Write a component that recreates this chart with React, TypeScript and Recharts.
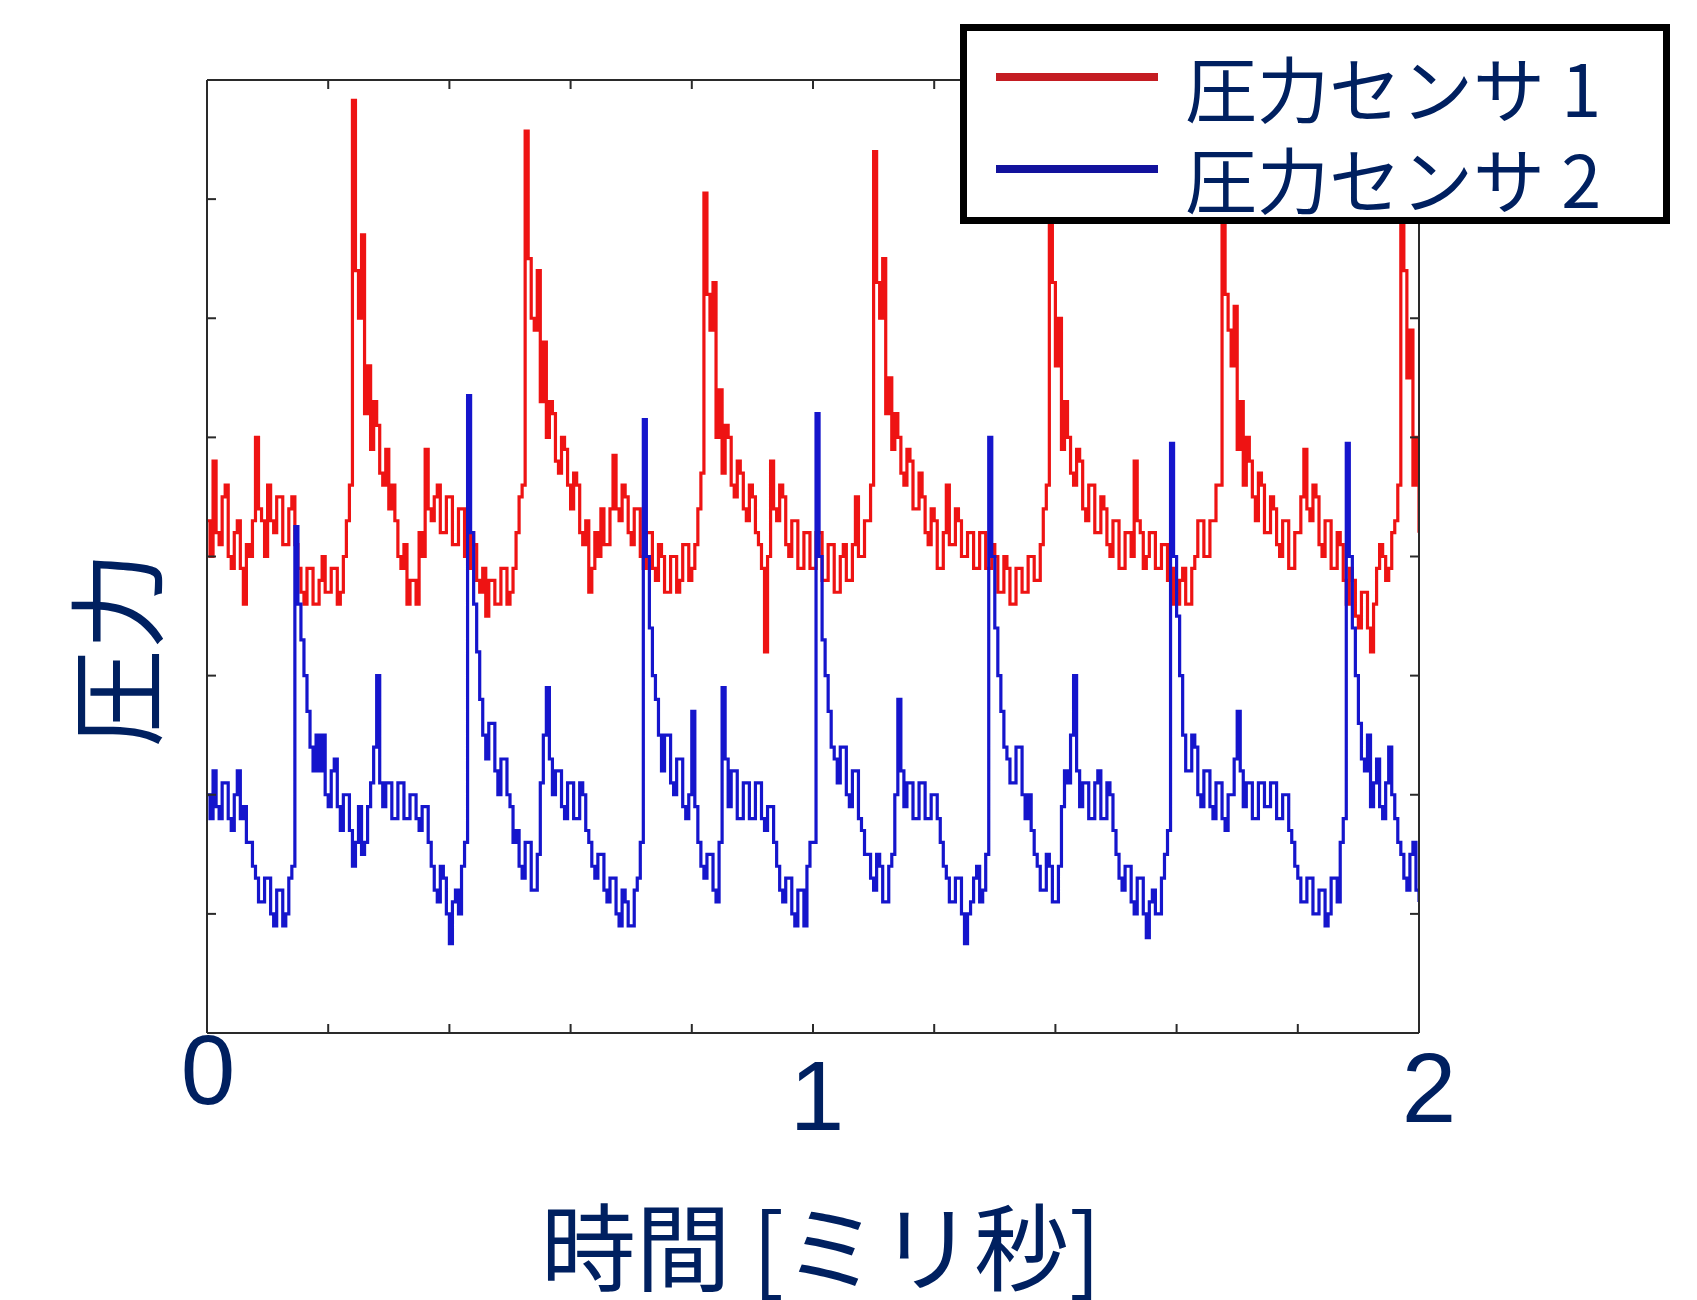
import React from 'react';
import { LineChart, Line, XAxis, YAxis, Label } from 'recharts';

const NAVY = '#002060';
const CJK_FONT = '"Noto Sans CJK JP", "Noto Sans", sans-serif';
const DIGIT_FONT = '"Liberation Sans", Arial, sans-serif';
const FRAME = '#2a2a2a';

// one sample every 0.005 ms, 0 .. 2 ms
const SAMPLE_STEP_MS = 0.005;
const timeTicks = [0, 0.2, 0.4, 0.6, 0.8, 1, 1.2, 1.4, 1.6, 1.8, 2];
const pressureTicks = [0, 1, 2, 3, 4, 5, 6, 7, 8];

// 圧力センサ 1 (red), 20 samples per 0.1 ms row
const sensor1 = [
  4.3, 4.0, 4.8, 4.2, 4.1, 4.5, 4.6, 4.0, 3.9, 4.2, 4.3, 3.9, 3.6, 4.1, 4.0, 4.3, 5.0, 4.4, 4.3, 4.0, // 0.0
  4.6, 4.3, 4.2, 4.5, 4.5, 4.1, 4.1, 4.4, 4.5, 4.1, 3.9, 3.7, 3.6, 3.9, 3.9, 3.6, 3.6, 3.8, 4.0, 3.7, // 0.1
  3.7, 3.9, 3.9, 3.6, 3.7, 4.0, 4.3, 4.6, 7.83, 6.4, 6.0, 6.7, 5.2, 5.6, 4.9, 5.3, 5.1, 4.7, 4.6, 4.9, // 0.2
  4.4, 4.6, 4.3, 4.0, 3.9, 4.1, 3.6, 3.8, 3.8, 3.6, 4.2, 4.0, 4.9, 4.4, 4.3, 4.5, 4.6, 4.2, 4.2, 4.5, // 0.3
  4.5, 4.1, 4.1, 4.4, 4.4, 4.0, 3.9, 4.2, 4.1, 3.8, 3.7, 3.9, 3.5, 3.8, 3.8, 3.6, 3.6, 3.9, 3.9, 3.6, // 0.4
  3.7, 3.9, 4.2, 4.5, 4.6, 7.57, 6.5, 6.0, 5.9, 6.4, 5.3, 5.8, 5.0, 5.3, 5.2, 4.8, 4.7, 5.0, 4.9, 4.6, // 0.5
  4.4, 4.7, 4.6, 4.2, 4.1, 4.3, 3.7, 3.9, 4.2, 4.0, 4.4, 4.1, 4.1, 4.4, 4.85, 4.4, 4.3, 4.6, 4.5, 4.2, // 0.6
  4.1, 4.4, 4.4, 4.0, 3.9, 4.2, 4.2, 3.9, 3.8, 4.1, 4.0, 3.7, 3.7, 4.0, 4.0, 3.7, 3.8, 4.1, 4.1, 3.8, // 0.7
  3.9, 4.1, 4.4, 4.7, 7.05, 6.2, 5.9, 6.3, 5.0, 5.4, 4.7, 5.1, 5.0, 4.6, 4.5, 4.8, 4.7, 4.4, 4.3, 4.6, // 0.8
  4.5, 4.2, 4.1, 3.9, 3.2, 4.0, 4.8, 4.4, 4.3, 4.6, 4.5, 4.1, 4.0, 4.3, 4.3, 3.9, 3.9, 4.2, 4.2, 3.9, // 0.9
  3.9, 4.2, 4.2, 3.8, 3.8, 4.1, 4.1, 3.7, 3.7, 4.0, 4.1, 3.8, 3.8, 4.1, 4.5, 4.0, 4.0, 4.3, 4.3, 4.6, // 1.0
  7.4, 6.3, 6.0, 6.5, 5.2, 5.5, 4.9, 5.2, 5.0, 4.7, 4.6, 4.9, 4.8, 4.4, 4.4, 4.7, 4.5, 4.2, 4.1, 4.4, // 1.1
  4.3, 3.9, 3.9, 4.2, 4.6, 4.1, 4.1, 4.4, 4.3, 4.0, 4.0, 4.2, 4.2, 3.9, 3.9, 4.2, 4.2, 3.9, 3.9, 4.1, // 1.2
  4.0, 3.7, 3.7, 4.0, 3.9, 3.6, 3.6, 3.9, 3.9, 3.7, 3.7, 4.0, 4.0, 3.8, 3.8, 4.1, 4.4, 4.6, 7.2, 6.3, // 1.3
  5.6, 6.0, 4.9, 5.3, 5.0, 4.7, 4.6, 4.9, 4.8, 4.4, 4.3, 4.6, 4.6, 4.2, 4.2, 4.5, 4.4, 4.1, 4.0, 4.3, // 1.4
  4.3, 3.9, 3.9, 4.2, 4.2, 4.0, 4.8, 4.3, 4.2, 3.9, 4.0, 4.2, 4.2, 3.9, 3.9, 4.1, 4.1, 3.8, 3.9, 3.6, // 1.5
  3.6, 3.8, 3.9, 3.6, 3.6, 3.9, 4.0, 4.3, 4.3, 4.0, 4.0, 4.3, 4.3, 4.6, 4.6, 7.3, 6.2, 5.9, 5.6, 6.1, // 1.6
  4.9, 5.3, 4.6, 5.0, 4.8, 4.5, 4.3, 4.7, 4.6, 4.2, 4.2, 4.5, 4.4, 4.1, 4.0, 4.3, 4.3, 3.9, 3.9, 4.2, // 1.7
  4.2, 4.5, 4.9, 4.4, 4.3, 4.6, 4.5, 4.1, 4.0, 4.3, 4.3, 3.9, 3.9, 4.2, 4.1, 3.8, 3.6, 3.9, 3.8, 3.5, // 1.8
  3.4, 3.7, 3.7, 3.4, 3.2, 3.6, 3.9, 4.1, 4.0, 3.8, 3.9, 4.2, 4.3, 4.6, 7.2, 6.4, 5.5, 5.9, 4.6, 5.0, // 1.9
  4.2,
];

// 圧力センサ 2 (blue)
const sensor2 = [
  2.0, 1.8, 2.2, 1.9, 1.8, 2.1, 2.1, 1.8, 1.7, 2.0, 2.2, 1.8, 1.9, 1.6, 1.6, 1.4, 1.3, 1.1, 1.1, 1.3, // 0.0
  1.3, 1.0, 0.9, 1.2, 1.2, 0.9, 1.0, 1.3, 1.4, 4.25, 3.6, 3.3, 3.0, 2.7, 2.4, 2.2, 2.5, 2.2, 2.5, 2.0, // 0.1
  1.9, 2.2, 2.3, 1.9, 1.7, 2.0, 2.0, 1.7, 1.4, 1.6, 1.9, 1.5, 1.6, 1.9, 2.1, 2.4, 3.0, 2.1, 1.9, 2.1, // 0.2
  2.1, 1.8, 1.8, 2.1, 2.1, 1.8, 1.8, 2.0, 2.0, 1.8, 1.7, 1.9, 1.9, 1.6, 1.4, 1.2, 1.1, 1.4, 1.3, 1.0, // 0.3
  0.75, 1.1, 1.2, 1.0, 1.4, 1.6, 5.35, 4.2, 3.6, 3.2, 2.8, 2.5, 2.3, 2.6, 2.6, 2.2, 2.0, 2.3, 2.3, 2.0, // 0.4
  1.9, 1.6, 1.7, 1.4, 1.3, 1.6, 1.6, 1.2, 1.2, 1.5, 2.1, 2.5, 2.9, 2.3, 2.0, 2.2, 2.2, 1.9, 1.8, 2.1, // 0.5
  2.1, 1.8, 1.8, 2.1, 2.0, 1.7, 1.6, 1.4, 1.3, 1.5, 1.5, 1.2, 1.1, 1.3, 1.3, 1.0, 0.9, 1.2, 1.1, 0.9, // 0.6
  0.9, 1.2, 1.3, 1.6, 5.15, 4.0, 3.4, 3.0, 2.8, 2.5, 2.2, 2.5, 2.5, 2.1, 2.0, 2.3, 2.3, 1.9, 1.8, 2.0, // 0.7
  2.7, 1.9, 1.6, 1.4, 1.3, 1.5, 1.5, 1.2, 1.1, 1.6, 2.9, 2.3, 1.9, 2.2, 2.2, 1.8, 1.8, 2.1, 2.1, 1.8, // 0.8
  1.8, 2.1, 2.1, 1.8, 1.7, 1.9, 1.9, 1.6, 1.4, 1.2, 1.1, 1.3, 1.3, 1.0, 0.9, 1.2, 1.2, 0.9, 1.4, 1.6, // 0.9
  1.6, 5.2, 4.0, 3.3, 3.0, 2.7, 2.4, 2.3, 2.1, 2.4, 2.4, 2.0, 1.9, 2.2, 2.2, 1.8, 1.7, 1.5, 1.5, 1.3, // 1.0
  1.2, 1.5, 1.4, 1.1, 1.1, 1.4, 1.5, 2.0, 2.8, 2.2, 1.9, 2.1, 2.1, 1.8, 1.8, 2.1, 2.1, 1.8, 1.8, 2.0, // 1.1
  2.0, 1.8, 1.6, 1.4, 1.3, 1.1, 1.1, 1.3, 1.3, 1.0, 0.75, 1.0, 1.1, 1.3, 1.4, 1.1, 1.2, 1.5, 5.0, 4.0, // 1.2
  3.4, 3.0, 2.7, 2.4, 2.3, 2.1, 2.1, 2.4, 2.4, 2.0, 1.8, 2.0, 1.7, 1.5, 1.4, 1.2, 1.2, 1.5, 1.4, 1.1, // 1.3
  1.1, 1.4, 1.9, 2.2, 2.1, 2.5, 3.0, 2.2, 1.9, 2.1, 2.1, 1.8, 1.8, 2.1, 2.2, 1.8, 1.8, 2.1, 2.0, 1.7, // 1.4
  1.5, 1.3, 1.2, 1.4, 1.4, 1.1, 1.0, 1.3, 1.3, 1.0, 0.8, 1.1, 1.2, 1.0, 1.0, 1.3, 1.5, 1.7, 4.95, 4.0, // 1.5
  3.5, 3.0, 2.5, 2.2, 2.2, 2.5, 2.4, 2.0, 1.9, 2.2, 2.2, 1.9, 1.8, 2.1, 2.1, 1.8, 1.7, 2.0, 2.0, 2.3, // 1.6
  2.7, 2.2, 1.9, 2.1, 2.1, 1.8, 1.8, 2.1, 2.1, 1.9, 1.9, 2.1, 2.1, 1.8, 1.8, 2.0, 2.0, 1.7, 1.6, 1.4, // 1.7
  1.3, 1.1, 1.1, 1.3, 1.3, 1.0, 1.0, 1.2, 1.2, 0.9, 1.0, 1.3, 1.3, 1.1, 1.6, 1.8, 4.95, 4.0, 3.4, 3.0, // 1.8
  2.6, 2.3, 2.2, 2.5, 1.9, 2.1, 2.3, 1.9, 1.8, 2.1, 2.4, 2.0, 1.8, 1.6, 1.5, 1.3, 1.2, 1.5, 1.6, 1.2, // 1.9
  1.1,
];

const seriesNames = ['圧力センサ 1', '圧力センサ 2'];
const seriesColors = ['#ee1313', '#1515cc'];
const legendColors = ['#c41d22', '#12129c'];

const data = sensor1.map((v, i) => ({ t: i * SAMPLE_STEP_MS, s1: v, s2: sensor2[i] }));

// the three big time labels sit at slightly different heights in the original
const labelNudge: Record<number, { dx: number; dy: number }> = {
  0: { dx: 1, dy: 71 },
  1: { dx: 4, dy: 97 },
  2: { dx: 10, dy: 89 },
};

const TimeTick = (props: any) => {
  const { x, y, payload } = props;
  const n = labelNudge[payload.value];
  if (!n) return <g />;
  return (
    <text x={x + n.dx} y={y + n.dy} textAnchor="middle" fill={NAVY} fontSize={98} fontFamily={DIGIT_FONT}>
      {payload.value}
    </text>
  );
};

const NoTick = () => <g />;

const XTitle = (props: any) => {
  const vb = props.viewBox;
  return (
    <text x={vb.x + vb.width / 2 + 8} y={vb.y + 209} textAnchor="middle" dominantBaseline="central"
      fill={NAVY} fontSize={95} fontFamily={CJK_FONT}>
      時間 [ミリ秒]
    </text>
  );
};

const YTitle = (props: any) => {
  const vb = props.viewBox;
  const cx = vb.x - 95;
  const cy = vb.y + vb.height / 2 + 93;
  return (
    <text x={cx} y={cy} transform={`rotate(-90 ${cx} ${cy})`} textAnchor="middle" dominantBaseline="central"
      fill={NAVY} fontSize={98} fontFamily={CJK_FONT}>
      圧力
    </text>
  );
};

const axisLine = { stroke: FRAME, strokeWidth: 2 };
const tickLine = { stroke: FRAME, strokeWidth: 2 };

export default function App() {
  return (
    <div style={{ position: 'absolute', left: 0, top: 0, width: 1697, height: 1300, background: '#fff' }}>
      <LineChart width={1697} height={1300} data={data} margin={{ top: 79, right: 277, bottom: 266, left: 206 }}>
        <XAxis xAxisId="b" dataKey="t" type="number" domain={[0, 2]} ticks={timeTicks} interval={0}
          height={1} tickSize={-9} tickMargin={9} axisLine={axisLine} tickLine={tickLine}
          tick={<TimeTick />} allowDataOverflow>
          <Label content={<XTitle />} />
        </XAxis>
        <XAxis xAxisId="t" orientation="top" dataKey="t" type="number" domain={[0, 2]} ticks={timeTicks}
          interval={0} height={1} tickSize={-9} axisLine={axisLine} tickLine={tickLine} tick={<NoTick />}
          allowDataOverflow />
        <YAxis yAxisId="l" type="number" domain={[0, 8]} ticks={pressureTicks} interval={0} width={1}
          tickSize={-9} axisLine={axisLine} tickLine={tickLine} tick={<NoTick />} allowDataOverflow>
          <Label content={<YTitle />} />
        </YAxis>
        <YAxis yAxisId="r" orientation="right" type="number" domain={[0, 8]} ticks={pressureTicks} interval={0}
          width={1} tickSize={-9} axisLine={axisLine} tickLine={tickLine} tick={<NoTick />} allowDataOverflow />
        <Line xAxisId="b" yAxisId="l" dataKey="s1" name={seriesNames[0]} type="stepAfter" stroke={seriesColors[0]}
          strokeWidth={3.2} dot={false} activeDot={false} isAnimationActive={false} />
        <Line xAxisId="b" yAxisId="l" dataKey="s2" name={seriesNames[1]} type="stepAfter" stroke={seriesColors[1]}
          strokeWidth={3.2} dot={false} activeDot={false} isAnimationActive={false} />
      </LineChart>

      <div style={{
        position: 'absolute', left: 960, top: 24, width: 710, height: 200, boxSizing: 'border-box',
        border: '7px solid #000', background: '#fff',
      }}>
        {seriesNames.map((name, i) => (
          <React.Fragment key={name}>
            <div style={{
              position: 'absolute', left: 29, top: 42 + i * 92, width: 162, height: 8, background: legendColors[i],
            }} />
            <span style={{
              position: 'absolute', left: 218, top: 19 + i * 91, fontFamily: CJK_FONT, fontSize: 72,
              color: NAVY, lineHeight: '72px', whiteSpace: 'pre',
            }}>
              {name}
            </span>
          </React.Fragment>
        ))}
      </div>
    </div>
  );
}
